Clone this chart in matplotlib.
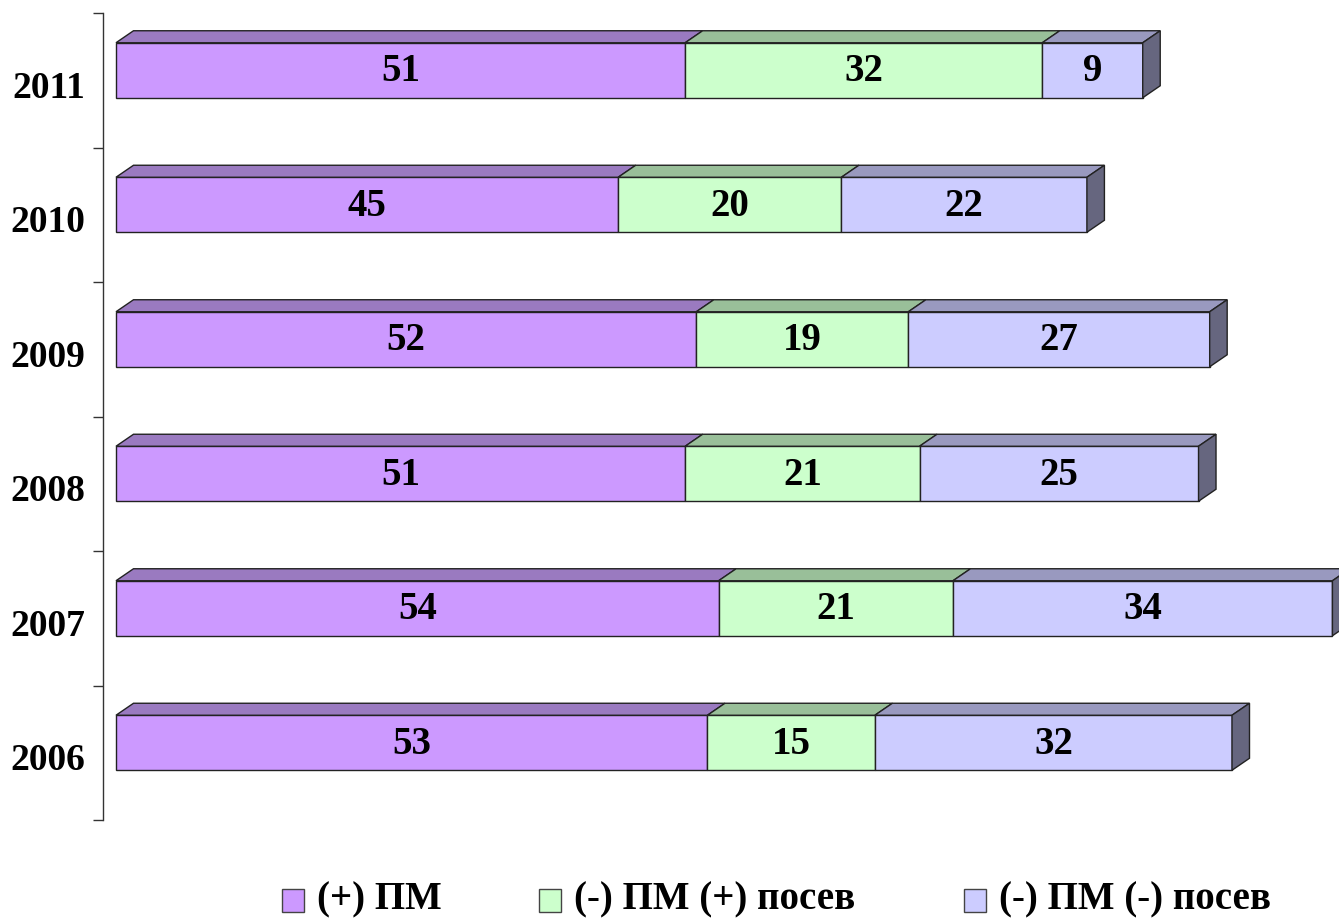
import matplotlib
matplotlib.use("Agg")
import matplotlib.pyplot as plt
from matplotlib.patches import Polygon, Rectangle

years = ["2006", "2007", "2008", "2009", "2010", "2011"]
pm_pos = [53, 54, 51, 52, 45, 51]
pm_neg_seed_pos = [15, 21, 21, 19, 20, 32]
pm_neg_seed_neg = [32, 34, 25, 27, 22, 9]
series = [pm_pos, pm_neg_seed_pos, pm_neg_seed_neg]
legend_labels = ["(+) ПМ", "(-) ПМ (+) посев", "(-) ПМ (-) посев"]

front_colors = ["#CC99FF", "#CCFFCC", "#CCCCFF"]
top_colors = ["#9A7AC0", "#99BF99", "#9999BF"]
side_color = "#66667F"
edge = "#222222"

W, H = 1339, 923
fig = plt.figure(figsize=(W / 100, H / 100), dpi=100)
ax_left_px, ax_right_px, ax_top_px, ax_bot_px = 103, 1339, 13, 820
ax = fig.add_axes([ax_left_px / W, (H - ax_bot_px) / H,
                   (ax_right_px - ax_left_px) / W, (ax_bot_px - ax_top_px) / H])

px_per_unit = 11.16
x0_px = 116
ax.set_xlim(-(x0_px - ax_left_px) / px_per_unit, (ax_right_px - x0_px) / px_per_unit)
n = len(years)
ax.set_ylim(-0.5, n - 0.5)
py = (ax_bot_px - ax_top_px) / n  # px per y unit

bar_h = 55 / py
yoff = 10 / py
dx = 17.5 / px_per_unit
dy = 12 / py

font = "Liberation Serif"
for i in range(n):
    yc = i + yoff
    yb, yt = yc - bar_h / 2, yc + bar_h / 2
    left = 0
    for s, vals in enumerate(series):
        v = vals[i]
        ax.add_patch(Rectangle((left, yb), v, bar_h, facecolor=front_colors[s],
                               edgecolor=edge, linewidth=1.0, zorder=3))
        ax.add_patch(Polygon([(left, yt), (left + v, yt), (left + v + dx, yt + dy),
                              (left + dx, yt + dy)], closed=True,
                             facecolor=top_colors[s], edgecolor=edge, linewidth=1.0, zorder=3))
        ax.text(left + v / 2, yc - 1.5 / py, str(v), ha="center", va="center", fontsize=28,
                fontweight="bold", family=font, color="black", zorder=5)
        left += v
    ax.add_patch(Polygon([(left, yb), (left, yt), (left + dx, yt + dy), (left + dx, yb + dy)],
                         closed=True, facecolor=side_color, edgecolor=edge, linewidth=1.0, zorder=3))

for sp in ["top", "right", "bottom"]:
    ax.spines[sp].set_visible(False)
ax.spines["left"].set_color("#333333")
ax.spines["left"].set_linewidth(1.0)
ax.set_xticks([])
ax.set_yticks([i - 0.5 for i in range(n + 1)])
ax.set_yticklabels([])
ax.tick_params(axis="y", which="major", length=7, width=1.0, color="#333333", direction="out")
ax.set_yticks([i - 4 / py for i in range(n)], minor=True)
ax.set_yticklabels(years, minor=True, fontsize=27, fontweight="bold", family=font)
ax.tick_params(axis="y", which="minor", length=0, pad=13)
ax.patch.set_alpha(0)

# legend
sq_x = [282, 539, 964]
sq_w, sq_h = 22, 23
sq_top = 889
for s in range(3):
    fig.patches.append(Rectangle((sq_x[s] / W, (H - sq_top - sq_h) / H), sq_w / W, sq_h / H,
                                 transform=fig.transFigure, facecolor=front_colors[s],
                                 edgecolor="#444444", linewidth=1.0))
    fig.text((sq_x[s] + sq_w + 13) / W, (H - 900) / H, legend_labels[s], ha="left", va="center",
             fontsize=28, fontweight="bold", family=font)

fig.savefig("out.png", dpi=100)
